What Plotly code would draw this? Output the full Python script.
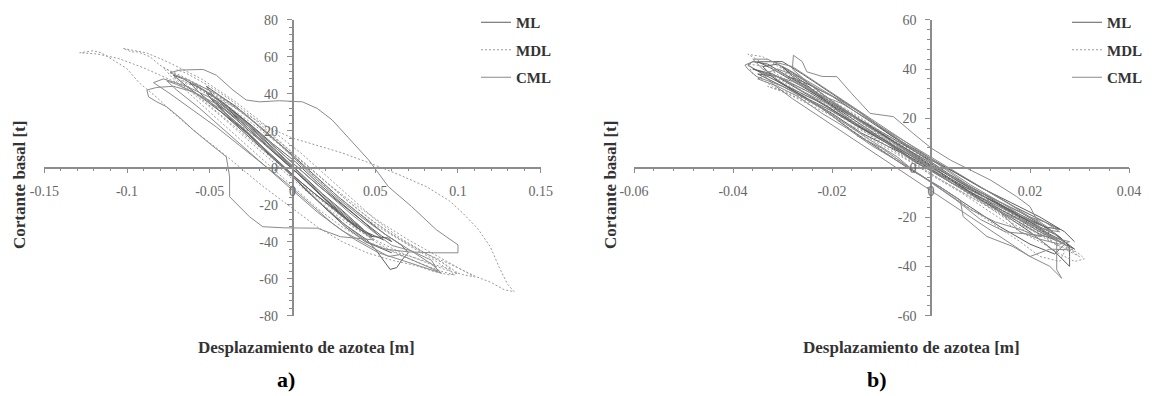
import plotly.graph_objects as go

# ---------------- Panel a) data (x: m, y: t) ----------------
a_ml_x = [0.000, -0.010, -0.020, -0.030, -0.040, -0.046, -0.050, -0.047, -0.038, -0.025, -0.012, 0.000, 0.012, 0.025, 0.035, 0.045, 0.052, 0.055, 0.050, 0.040, 0.028, 0.015, 0.002, -0.012, -0.025, -0.035, -0.043, -0.048, -0.052, -0.046, -0.034, -0.020, -0.006, 0.008, 0.022, 0.036, 0.046, 0.058, 0.060, 0.054, 0.044, 0.030, 0.016, 0.002, -0.014, -0.028, -0.040, -0.050, -0.058, -0.062, -0.058, -0.048, -0.036, -0.022, -0.008, 0.006, 0.020, 0.032, 0.040, 0.045, 0.050, 0.055, 0.059, 0.063, 0.066, 0.070, 0.066, 0.056, 0.042, 0.028, 0.012, -0.004, -0.020, -0.034, -0.044, -0.052, -0.048, -0.036, -0.024, -0.010, 0.004, 0.018, 0.030, 0.040, 0.048,
          0.042, 0.032, 0.020, 0.008, -0.006, -0.018, -0.030, -0.040, -0.046, -0.041, -0.032, -0.020, -0.008, 0.004, 0.016, 0.028, 0.038, 0.046, 0.040, 0.030, 0.018, 0.006, -0.006, -0.018, -0.030, -0.042, -0.054, -0.066, -0.072, -0.064, -0.052, -0.040, -0.028, -0.016, -0.004, 0.008, 0.020, 0.032, 0.044, 0.054, 0.060]
a_ml_y = [0, 9, 17, 25, 32, 36, 38, 35, 27, 17, 6, -4, -13, -22, -29, -35, -38, -39, -35, -27, -18, -8, 3, 13, 23, 30, 36, 39, 40, 35, 26, 15, 4, -7, -19, -30, -37, -38, -40, -37, -30, -20, -10, 1, 14, 25, 34, 40, 44, 46, 42, 34, 24, 13, 2, -10, -22, -31, -36, -39, -44, -50, -55, -54, -50, -46, -42, -36, -26, -16, -3, 10, 22, 33, 39, 44, 39, 29, 19, 8, -4, -16, -26, -33, -37,
          -33, -26, -17, -7, 4, 14, 24, 31, 35, 30, 23, 13, 3, -7, -16, -25, -32, -36, -31, -23, -14, -4, 6, 16, 26, 35, 42, 48, 50, 44, 36, 28, 19, 9, -1, -12, -22, -32, -40, -44, -46]

a_mdl_x = [0.010, -0.010, -0.030, -0.050, -0.070, -0.090, -0.105, -0.118, -0.1286, -0.1205, -0.1155, -0.1084, -0.1003, -0.0923, -0.082, -0.074, -0.060, -0.045, -0.032, -0.018, 0.000, 0.015, 0.030, 0.045, 0.060, 0.075, 0.085, 0.095, 0.100, 0.092, 0.080, 0.065, 0.050, 0.035, 0.020, 0.005, -0.015, -0.035, -0.055, -0.075, -0.088, -0.1024, -0.0973, -0.0933, -0.0862, -0.0802, -0.070, -0.060, -0.045, -0.030, -0.015, 0.000, 0.015, 0.030, 0.047, 0.065, 0.081, 0.095, 0.103, 0.112, 0.1195, 0.125, 0.130, 0.134, 0.128, 0.120, 0.111, 0.095, 0.080, 0.065, 0.050, 0.035, 0.020, 0.005, -0.010, -0.025, -0.040, -0.055, -0.068, -0.078, -0.072, -0.060, -0.045, -0.030, -0.015, 0.000, 0.015, 0.030, 0.045, 0.060, 0.075, 0.088, 0.096, 0.090, 0.078, 0.064, 0.050, 0.036, 0.022, 0.008, -0.008, -0.022, -0.036, -0.050, -0.064, -0.072,
           -0.060, -0.046, -0.032, -0.018, -0.004, 0.010, 0.024, 0.038, 0.052, 0.066, 0.080, 0.092, 0.104, 0.110, 0.100, 0.086, 0.070, 0.054, 0.038, 0.022, 0.006, -0.010, -0.026, -0.042, -0.058,
           -0.066, -0.060, -0.048, -0.034, -0.020, -0.006, 0.008, 0.022, 0.036, 0.050, 0.064, 0.078, 0.090, 0.098, 0.094, 0.084, 0.072, 0.060, 0.046, 0.032, 0.018, 0.004, -0.010, -0.024, -0.038, -0.052, -0.064, -0.070]
a_mdl_y = [-8, 8, 22, 35, 46, 54, 59, 61.5, 62.1, 63.2, 62.1, 58.2, 53.7, 45.6, 38, 31.1, 20.4, 10, 0.5, -10, -22, -32, -40, -46, -50, -53, -56, -58, -57, -52, -46, -38, -28, -16, -4, 8, 22, 36, 48, 57, 62, 64.5, 62.6, 62.6, 60, 55.5, 50, 45, 38, 30, 22, 16, 12, 8, 2.4, -4, -10.3, -18, -24.6, -33, -42.7, -54, -63, -67, -66, -62, -58.9, -52, -46.2, -39, -31, -21, -10, 2, 14, 26, 36, 44, 50, 54, 48, 38, 26, 14, 2, -10, -22, -32, -40, -45, -49, -53, -55, -51, -45, -38, -30, -20, -9, 2, 14, 24, 33, 40, 46, 49,
           40, 30, 19, 8, -3, -14, -24, -33, -40, -46, -51, -55, -58, -59, -54, -47, -39, -30, -20, -9, 3, 14, 25, 35, 43,
           47, 41, 32, 22, 11, 0, -11, -21, -31, -40, -47, -52, -56, -58, -55, -49, -43, -36, -27, -17, -6, 5, 16, 27, 37, 45, 51, 53]

a_cml_x = [0.000, -0.015, -0.030, -0.045, -0.060, -0.072, -0.082, -0.088, -0.087, -0.082, -0.076, -0.068, -0.060, -0.050, -0.040, -0.038, -0.038, -0.026, -0.018, -0.005, 0.015, 0.029, 0.049, 0.040, 0.025, 0.010, -0.005, -0.020, -0.035, -0.050, -0.062, -0.074, -0.068, -0.054, -0.046, -0.036, -0.028, -0.020, -0.008, 0.006, 0.015, 0.024, 0.035, 0.046, 0.058, 0.072, 0.087, 0.094, 0.100, 0.100, 0.085, 0.070, 0.056, 0.045, 0.032, 0.018, 0.004, -0.012, -0.028, -0.044, -0.058, -0.070, -0.076, -0.070, -0.056, -0.042, -0.028, -0.014, 0.000, 0.015, 0.030, 0.042, 0.050, 0.058, 0.065, 0.078, 0.088, 0.084, 0.072, 0.060,
           0.048, 0.034, 0.020, 0.006, -0.008, -0.022, -0.036, -0.050, -0.064, -0.078, -0.084, -0.074, -0.060, -0.046, -0.032, -0.018, -0.004, 0.010, 0.024, 0.038, 0.052, 0.066, 0.080, 0.090, 0.084, 0.070, 0.056, 0.042, 0.028, 0.014, 0.000, -0.014, -0.030, -0.046, -0.060]
a_cml_y = [0, 12, 24, 34, 41, 44, 43.4, 42, 38.3, 35.6, 32.9, 27, 20.4, 13, 5.9, -5, -15.7, -26.5, -31.9, -32.5, -32.7, -37.3, -39, -31, -20, -8, 5, 17, 29, 40, 47, 51.3, 52.8, 53.1, 50, 42, 36.6, 35.6, 36.2, 35.6, 32, 25.8, 15, 4.2, -10.3, -21, -33.6, -38, -41.7, -46, -46, -45.5, -44, -40, -31, -20, -8, 6, 20, 32, 40, 45, 47, 42, 32, 21, 10, -1, -12, -24, -34, -40, -44, -48, -47, -52, -56, -50, -45, -42,
           -34, -24, -13, -2, 9, 20, 30, 38, 44, 48, 46, 40, 31, 22, 12, 2, -8, -19, -30, -39, -46, -50, -54, -57, -52, -44, -36, -27, -17, -6, 6, 18, 30, 40, 46]

# ---------------- Panel b) data ----------------
b_ml_x = [0.000, -0.005, -0.010, -0.015, -0.020, -0.025, -0.030, -0.034, -0.037, -0.036, -0.033, -0.028, -0.022, -0.016, -0.010, -0.004, 0.002, 0.008, 0.014, 0.019, 0.023, 0.026, 0.028, 0.028, 0.028, 0.025, 0.020, 0.014, 0.008, 0.002, -0.004, -0.010, -0.016, -0.022, -0.028, -0.032, -0.035, -0.030, -0.026, -0.020, -0.014, -0.008, -0.002, 0.004, 0.010, 0.016, 0.020, 0.024, 0.027, 0.024, 0.018, 0.012, 0.006, 0.000, -0.006, -0.012, -0.018, -0.024, -0.028, -0.030, -0.026, -0.020, -0.014, -0.008, -0.002, 0.004, 0.010, 0.016, 0.022, 0.026, 0.029,
          0.025, 0.019, 0.013, 0.007, 0.001, -0.005, -0.011, -0.017, -0.023, -0.029, -0.033, -0.036, -0.032, -0.027, -0.021, -0.015, -0.009, -0.003, 0.003, 0.009, 0.015, 0.021, 0.025, 0.022, 0.016, 0.010, 0.004, -0.002, -0.008, -0.014, -0.020, -0.026, -0.031, -0.034, -0.031, -0.026, -0.020, -0.014, -0.008, -0.002, 0.004, 0.010, 0.016, 0.022, 0.027, 0.025, 0.020, 0.014, 0.008, 0.002,
          -0.004, -0.010, -0.016, -0.022, -0.028, -0.033, -0.035, -0.031, -0.025, -0.019, -0.013, -0.007, -0.001, 0.005, 0.011, 0.017, 0.023, 0.026, 0.023, 0.017, 0.011, 0.005, -0.001, -0.007, -0.013, -0.019, -0.025, -0.029, -0.026, -0.020, -0.014, -0.008, -0.002, 0.004, 0.010, 0.016, 0.022, 0.027, 0.029]
b_ml_y = [0, 6, 12, 17, 23, 28, 34, 38, 41.6, 43, 42, 36, 28, 20, 12, 4, -3, -9, -15, -20, -24, -28, -32, -36, -40, -34, -26, -18, -10, -2, 6, 14, 21, 28, 35, 40, 43, 43, 38, 30, 22, 13, 5, -3, -10, -17, -22, -27, -30, -25, -18, -12, -6, 1, 9, 16, 24, 31, 37, 41, 36, 27, 19, 11, 3, -5, -13, -20, -27, -30, -33,
          -27, -21, -14, -8, -1, 6, 13, 20, 27, 33, 38, 40, 38, 32, 25, 17, 10, 2, -4, -11, -18, -24, -29, -26, -19, -13, -6, 2, 8, 14, 22, 29, 35, 41, 42, 35, 25, 16, 9, 1, -6, -12, -18, -25, -31, -35, -31, -24, -16, -8,
          -1, 7, 15, 24, 31, 36, 38, 37, 31, 24, 18, 11, 4, -2, -9, -16, -22, -25, -24, -19, -12, -5, 3, 10, 17, 25, 33, 37, 35, 29, 21, 13, 6, -1, -8, -14, -20, -26, -30]

b_mdl_x = [0.000, -0.008, -0.016, -0.024, -0.030, -0.035, -0.037, -0.034, -0.030, -0.024, -0.018, -0.012, -0.006, 0.000, 0.006, 0.012, 0.018, 0.023, 0.027, 0.030, 0.031, 0.029, 0.026, 0.022, 0.018, 0.012, 0.006, 0.000, -0.006, -0.012, -0.018, -0.024, -0.029, -0.033, -0.028, -0.022, -0.016, -0.010, -0.004, 0.002, 0.008, 0.014, 0.020, 0.024, 0.027, 0.026, 0.022, 0.018, 0.012, 0.006, 0.000, -0.006, -0.012, -0.018, -0.024, -0.030, -0.034,
           -0.030, -0.025, -0.019, -0.013, -0.007, -0.001, 0.005, 0.011, 0.017, 0.022, 0.026, 0.029, 0.025, 0.020, 0.015, 0.009, 0.003, -0.003, -0.009, -0.015, -0.021, -0.027, -0.032, -0.036, -0.037, -0.033, -0.028, -0.022, -0.016, -0.010, -0.004, 0.002, 0.008, 0.014, 0.020, 0.025, 0.030,
           0.027, 0.022, 0.017, 0.012, 0.007, 0.002, -0.003, -0.008, -0.013, -0.018, -0.023, -0.028, -0.032, -0.029, -0.024, -0.019, -0.014, -0.009, -0.004, 0.001, 0.006, 0.011, 0.016, 0.021, 0.024]
b_mdl_y = [2, 12, 22, 31, 38, 44, 46, 45, 40, 32, 24, 15, 7, -1, -8, -15, -21, -27, -31, -35, -37, -38, -35, -30, -26, -18, -10, -3, 5, 13, 19, 26, 30, 33, 30, 25, 18, 10, 3, -5, -12, -18, -24, -29, -34, -38, -36, -30, -22, -14, -6, 2, 10, 18, 27, 35, 39,
           36, 30, 23, 16, 9, 1, -6, -13, -19, -25, -30, -34, -31, -25, -20, -13, -6, 1, 8, 15, 22, 28, 33, 38, 42, 41, 36, 29, 21, 13, 6, -1, -9, -16, -23, -29, -36,
           -33, -27, -22, -16, -10, -3, 4, 10, 17, 23, 29, 34, 39, 38, 32, 26, 20, 13, 6, -1, -8, -15, -22, -28, -32]

b_cml_x = [0.000, -0.006, -0.012, -0.018, -0.024, -0.028, -0.0278, -0.026, -0.0251, -0.022, -0.019, -0.016, -0.0123, -0.0076, -0.0036, 0.000, 0.004, 0.0079, 0.012, 0.0173, 0.020, 0.0214, 0.0234, 0.0264, 0.0281, 0.024, 0.020, 0.0166, 0.0113, 0.0065, 0.0059, 0.002, -0.003, -0.0069, -0.0123, -0.0224, -0.030, -0.0352, -0.037, -0.0376, -0.036, -0.032, -0.028, -0.022, -0.016, -0.010, -0.004, 0.002, 0.008, 0.014, 0.018, 0.022, 0.0254, 0.0254, 0.0264, 0.024, 0.020, 0.014, 0.008, 0.002, -0.004, -0.010, -0.016, -0.022, -0.028, -0.032,
           -0.034, -0.031, -0.027, -0.022, -0.017, -0.012, -0.007, -0.002, 0.003, 0.008, 0.013, 0.017, 0.021, 0.024, 0.022, 0.018, 0.013, 0.008, 0.003, -0.002, -0.007, -0.012, -0.017, -0.022, -0.027, -0.031, -0.035, -0.033, -0.028, -0.023, -0.018, -0.013, -0.008, -0.003, 0.002, 0.007, 0.012, 0.016, 0.020, 0.023, 0.026,
           0.023, 0.019, 0.014, 0.009, 0.004, -0.001, -0.006, -0.011, -0.016, -0.021, -0.026, -0.030, -0.034, -0.036, -0.033, -0.029, -0.024, -0.019, -0.014, -0.009, -0.004, 0.001, 0.006, 0.011, 0.015, 0.018, 0.022, 0.026, 0.028, 0.024, 0.020, 0.015, 0.010, 0.005, 0.000, -0.005, -0.010, -0.015]
b_cml_y = [0, 8, 16, 24, 33, 40, 45.6, 43, 38.9, 37, 36.9, 30, 22, 20.7, 13.9, 8, 3, -0.9, -5, -11.7, -15.8, -21.2, -23.9, -29.3, -33.3, -33, -36, -32, -27.9, -19.8, -13.1, -8, -2, 4.5, 11.2, 24.7, 33, 36.9, 40, 41.6, 43, 43, 41, 33, 25, 17, 9, 1, -7, -14, -19, -24, -30, -41.4, -44.8, -40, -36, -28, -20, -12, -4, 4, 12, 20, 28, 34,
           38, 40, 37, 31, 26, 19, 12, 5, -2, -8, -13, -17, -21, -26, -28, -25, -22, -17, -10, -3, 3, 9, 16, 22, 29, 33, 36, 38, 35, 30, 26, 20, 14, 8, 2, -4, -10, -15, -20, -22, -26,
           -25, -22, -18, -12, -6, 0, 6, 13, 19, 26, 31, 36, 40, 44, 44, 40, 34, 28, 22, 15, 8, 2, -5, -12, -20, -26, -29, -31, -30, -28, -27, -26, -21, -13, -6, 1, 8, 13]

# ---------------- ticks ----------------
a_xticks = [-0.15, -0.1, -0.05, 0, 0.05, 0.1, 0.15]
a_xticklabels = ["-0.15", "-0.1", "-0.05", "0", "0.05", "0.1", "0.15"]
a_yticks = [-80, -60, -40, -20, 0, 20, 40, 60, 80]
a_yticklabels = ["-80", "-60", "-40", "-20", "0", "20", "40", "60", "80"]
b_xticks = [-0.06, -0.04, -0.02, 0, 0.02, 0.04]
b_xticklabels = ["-0.06", "-0.04", "-0.02", "0", "0.02", "0.04"]
b_yticks = [-60, -40, -20, 0, 20, 40, 60]
b_yticklabels = ["-60", "-40", "-20", "0", "20", "40", "60"]

series_names = ["ML", "MDL", "CML"]

W, H = 1158, 396
SERIF = "Liberation Serif, Times New Roman, DejaVu Serif, serif"
axis_col = "#8c8c8c"
tick_font = dict(family=SERIF, size=14, color="#666666")
title_font = dict(family=SERIF, size=17, color="#333333", weight="bold")

styles = {
    "ML": dict(color="#5e5e5e", width=1, dash="solid"),
    "MDL": dict(color="#9a9a9a", width=1, dash="2px,2px"),
    "CML": dict(color="#8a8a8a", width=1, dash="solid"),
}

fig = go.Figure()
panel_a = {"ML": (a_ml_x, a_ml_y), "MDL": (a_mdl_x, a_mdl_y), "CML": (a_cml_x, a_cml_y)}
panel_b = {"ML": (b_ml_x, b_ml_y), "MDL": (b_mdl_x, b_mdl_y), "CML": (b_cml_x, b_cml_y)}

for name in series_names:
    xs, ys = panel_a[name]
    fig.add_trace(go.Scatter(x=xs, y=ys, mode="lines", name=name, line=styles[name],
                             xaxis="x", yaxis="y", legend="legend", legendgroup="a" + name))
for name in series_names:
    xs, ys = panel_b[name]
    fig.add_trace(go.Scatter(x=xs, y=ys, mode="lines", name=name, line=styles[name],
                             xaxis="x2", yaxis="y2", legend="legend2", legendgroup="b" + name))

def xax(domain, rng, tv, tt, minor_dt):
    return dict(domain=domain, range=rng, anchor="free", position=1 - 167.7 / H,
                tickmode="array", tickvals=tv, ticktext=tt, ticks="outside", ticklen=5,
                tickcolor=axis_col, tickwidth=1, showline=True, linecolor=axis_col, linewidth=1.5,
                showgrid=False, zeroline=False, tickfont=tick_font, ticklabelstandoff=6,
                automargin=False,
                minor=dict(tickmode="linear", tick0=0, dtick=minor_dt, ticks="outside", ticklen=3,
                           tickcolor=axis_col, showgrid=False),
                fixedrange=True)

def yax(domain, rng, tv, tt, pos):
    return dict(domain=domain, range=rng, anchor="free", position=pos,
                tickmode="array", tickvals=tv, ticktext=tt, ticks="outside", ticklen=5,
                tickcolor=axis_col, tickwidth=1, showline=True, linecolor=axis_col, linewidth=1.5,
                showgrid=False, zeroline=False, tickfont=tick_font, ticklabelstandoff=6,
                automargin=False,
                minor=dict(tickmode="linear", tick0=0, dtick=4, ticks="outside", ticklen=3,
                           tickcolor=axis_col, showgrid=False),
                fixedrange=True)

ydom = [1 - 315.7 / H, 1 - 19.7 / H]
legend_font = dict(family=SERIF, size=15, color="#333333", weight="bold")

fig.update_layout(
    template="none",
    width=W, height=H,
    margin=dict(l=0, r=0, t=0, b=0, pad=0, autoexpand=False),
    paper_bgcolor="white", plot_bgcolor="white",
    font=dict(family=SERIF),
    xaxis=xax([44.3 / W, 540.7 / W], [-0.15, 0.15], a_xticks, a_xticklabels, 0.01),
    yaxis=yax(ydom, [-80, 80], a_yticks, a_yticklabels, 292.5 / W),
    xaxis2=xax([634 / W, 1129 / W], [-0.06, 0.04], b_xticks, b_xticklabels, 0.004),
    yaxis2=yax(ydom, [-60, 60], b_yticks, b_yticklabels, 931 / W),
    legend=dict(x=476 / W, y=1 - 6 / H, xanchor="left", yanchor="top", font=legend_font,
                itemwidth=30, tracegroupgap=5, bgcolor="rgba(0,0,0,0)"),
    legend2=dict(x=1067 / W, y=1 - 6 / H, xanchor="left", yanchor="top", font=legend_font,
                 itemwidth=30, tracegroupgap=5, bgcolor="rgba(0,0,0,0)"),
    showlegend=True,
)

annos = [
    dict(text="Cortante basal [t]", x=20 / W, y=1 - 185 / H, textangle=-90, font=title_font),
    dict(text="Cortante basal [t]", x=611 / W, y=1 - 185 / H, textangle=-90, font=title_font),
    dict(text="Desplazamiento de azotea [m]", x=306 / W, y=1 - 347 / H, font=title_font),
    dict(text="Desplazamiento de azotea [m]", x=911 / W, y=1 - 347 / H, font=title_font),
    dict(text="a)", x=286 / W, y=1 - 379 / H, font=dict(family=SERIF, size=22, color="#000000", weight="bold")),
    dict(text="b)", x=877 / W, y=1 - 379 / H, font=dict(family=SERIF, size=22, color="#000000", weight="bold")),
]
for a in annos:
    fig.add_annotation(xref="paper", yref="paper", xanchor="center", yanchor="middle",
                       showarrow=False, **a)

fig.write_html(
    "out.html",
    config={"displayModeBar": False},
    post_script="document.body.style.margin='0px'; document.body.style.overflow='hidden';",
)
